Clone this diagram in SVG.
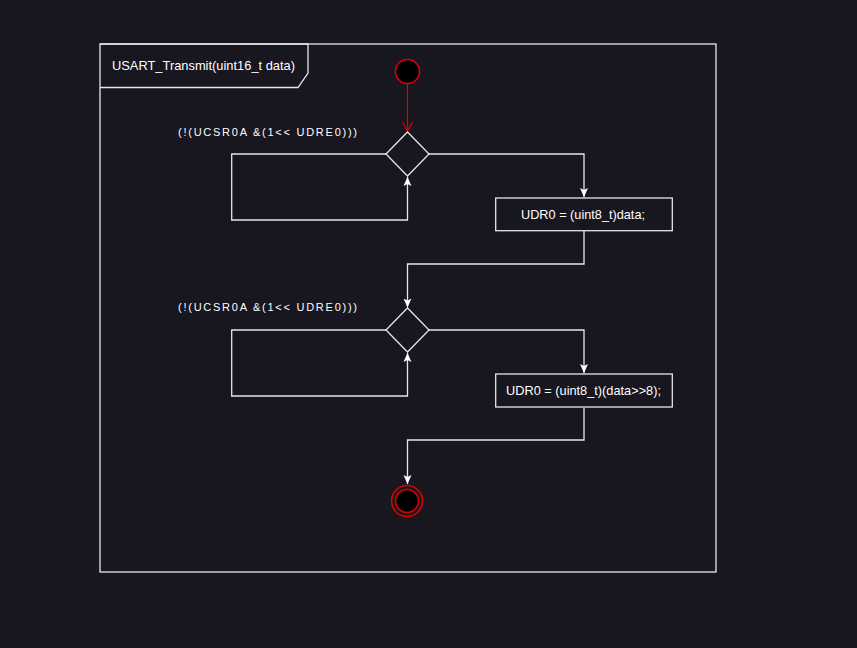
<svg xmlns="http://www.w3.org/2000/svg" width="857" height="648" viewBox="0 0 857 648">
<style>
.ln{fill:none;stroke:#e6e6e6;stroke-width:1.3}
.nd{fill:#18161f;stroke:#e6e6e6;stroke-width:1.3}
.t{font-family:"Liberation Sans",Arial,sans-serif;font-size:12.8px;fill:#ffffff}
.g{font-family:"Liberation Sans",Arial,sans-serif;font-size:11px;fill:#ffffff}
</style>
<defs>
<marker id="aw" markerWidth="10" markerHeight="10" refX="9" refY="5" orient="auto" markerUnits="userSpaceOnUse">
<path d="M0,1 L9,5 L0,9 L2,5 Z" fill="#ffffff"/>
</marker>
<marker id="ar" markerWidth="10" markerHeight="12" refX="9" refY="6" orient="auto" markerUnits="userSpaceOnUse">
<path d="M0,1 L9,6 L0,11" fill="none" stroke="#e00000" stroke-width="1.2"/>
</marker>
</defs>
<rect width="857" height="648" fill="#18161f"/>
<g id="frame">
<rect x="100" y="44" width="616" height="528" fill="none" stroke="#e6e6e6" stroke-width="1.3"/>
<path d="M100,44 L308,44 L308,73 L298,87.5 L100,87.5" class="ln"/>
<text x="112" y="70" class="t" textLength="183" lengthAdjust="spacingAndGlyphs">USART_Transmit(uint16_t data)</text>
</g>
<g id="connectors">
<line x1="407.5" y1="84" x2="407.5" y2="131" stroke="#e00000" stroke-width="1.2" marker-end="url(#ar)"/>
<path d="M386,154 L231.7,154 L231.7,220 L407.5,220 L407.5,177" class="ln" marker-end="url(#aw)"/>
<path d="M429,154 L584,154 L584,197" class="ln" marker-end="url(#aw)"/>
<path d="M584,231 L584,264 L407.5,264 L407.5,307.5" class="ln" marker-end="url(#aw)"/>
<path d="M386,330 L231.7,330 L231.7,396 L407.5,396 L407.5,353" class="ln" marker-end="url(#aw)"/>
<path d="M429,330 L584,330 L584,373" class="ln" marker-end="url(#aw)"/>
<path d="M584,407.5 L584,440 L407.5,440 L407.5,484" class="ln" marker-end="url(#aw)"/>
</g>
<g id="start">
<circle cx="407.5" cy="71.5" r="12" fill="#000000" stroke="#e00000" stroke-width="1.5"/>
</g>
<g id="decision1">
<path d="M407.5,132 L429,154 L407.5,176 L386,154 Z" class="nd"/>
<text x="178" y="136" class="g" textLength="179" lengthAdjust="spacing">(!(UCSR0A &amp;(1&lt;&lt; UDRE0)))</text>
</g>
<g id="action1">
<rect x="495.7" y="198" width="176.6" height="32.7" class="nd"/>
<text x="583" y="218.5" class="t" text-anchor="middle" textLength="124" lengthAdjust="spacingAndGlyphs">UDR0 = (uint8_t)data;</text>
</g>
<g id="decision2">
<path d="M407.5,308 L429,330 L407.5,352 L386,330 Z" class="nd"/>
<text x="178" y="311" class="g" textLength="179" lengthAdjust="spacing">(!(UCSR0A &amp;(1&lt;&lt; UDRE0)))</text>
</g>
<g id="action2">
<rect x="495.7" y="374" width="176.6" height="33" class="nd"/>
<text x="583.5" y="395" class="t" text-anchor="middle" textLength="155" lengthAdjust="spacingAndGlyphs">UDR0 = (uint8_t)(data&gt;&gt;8);</text>
</g>
<g id="end">
<circle cx="407" cy="501" r="15.5" fill="none" stroke="#e00000" stroke-width="1.5"/>
<circle cx="407" cy="501" r="11.5" fill="#000000" stroke="#e00000" stroke-width="1.5"/>
</g>
</svg>
